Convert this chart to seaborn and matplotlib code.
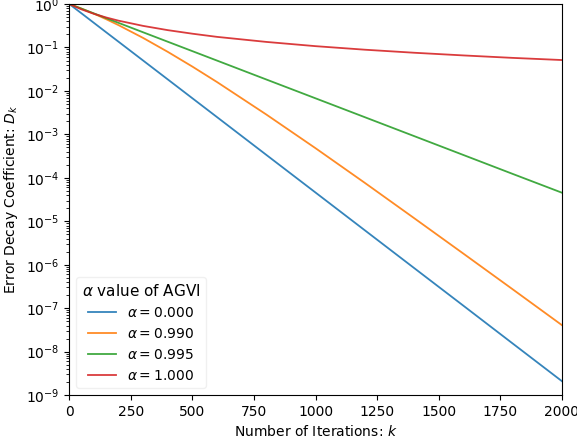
import numpy as np
import pandas as pd
import matplotlib
matplotlib.use("Agg")
import matplotlib.pyplot as plt
import seaborn as sns

iters = [0, 50, 100, 150, 200, 300, 400, 500, 600, 800, 1000, 1200, 1400, 1600, 1800, 2000]

# error decay coefficient D_k for each alpha
d_alpha_000 = [1.0, 0.607, 0.368, 0.223, 0.1355, 0.0499, 0.01837, 6.76e-3, 2.49e-3,
               3.37e-4, 4.57e-5, 6.19e-6, 8.39e-7, 1.14e-7, 1.54e-8, 2.09e-9]
d_alpha_990 = [1.0, 0.783, 0.598, 0.446, 0.326, 0.1653, 0.0791, 0.0362, 0.01596,
               2.86e-3, 4.79e-4, 7.64e-5, 1.18e-5, 1.80e-6, 2.72e-7, 4.07e-8]
d_alpha_995 = [1.0, 0.779, 0.607, 0.472, 0.368, 0.223, 0.1353, 0.0821, 0.0498,
               0.0183, 6.74e-3, 2.48e-3, 9.12e-4, 3.35e-4, 1.23e-4, 4.54e-5]
d_alpha_100 = [1.0, 0.750, 0.594, 0.489, 0.413, 0.313, 0.250, 0.207, 0.175,
               0.134, 0.107, 0.0887, 0.0755, 0.0655, 0.0575, 0.0513]

labels = [r'$\alpha = 0.000$', r'$\alpha = 0.990$', r'$\alpha = 0.995$', r'$\alpha = 1.000$']
series = [d_alpha_000, d_alpha_990, d_alpha_995, d_alpha_100]

# long format table for seaborn
frames = []
for lab, vals in zip(labels, series):
    frames.append(pd.DataFrame({'k': iters, 'D': vals, 'alpha': lab}))
df = pd.concat(frames, ignore_index=True)

fig, ax = plt.subplots(figsize=(5.77, 4.42), dpi=100)
fig.subplots_adjust(left=0.12, right=0.974, bottom=0.106, top=0.991)

sns.lineplot(data=df, x='k', y='D', hue='alpha', hue_order=labels,
             palette=sns.color_palette('tab10', 4), ax=ax, linewidth=1.3, alpha=0.9)

ax.set_yscale('log')
ax.set_xlim(0, 2000)
ax.set_ylim(1e-9, 1)
ax.set_xticks([0, 250, 500, 750, 1000, 1250, 1500, 1750, 2000])
ax.set_yticks([10.0 ** p for p in range(-9, 1)])
ax.set_xlabel('Number of Iterations: $k$')
ax.set_ylabel('Error Decay Coefficient: $D_k$')

handles, labs = ax.get_legend_handles_labels()
leg = ax.legend(handles, labs, title=r'$\alpha$ value of AGVI', loc='lower left',
                title_fontsize=11)
leg.get_frame().set_edgecolor('0.93')

plt.savefig('out.png', dpi=100)
